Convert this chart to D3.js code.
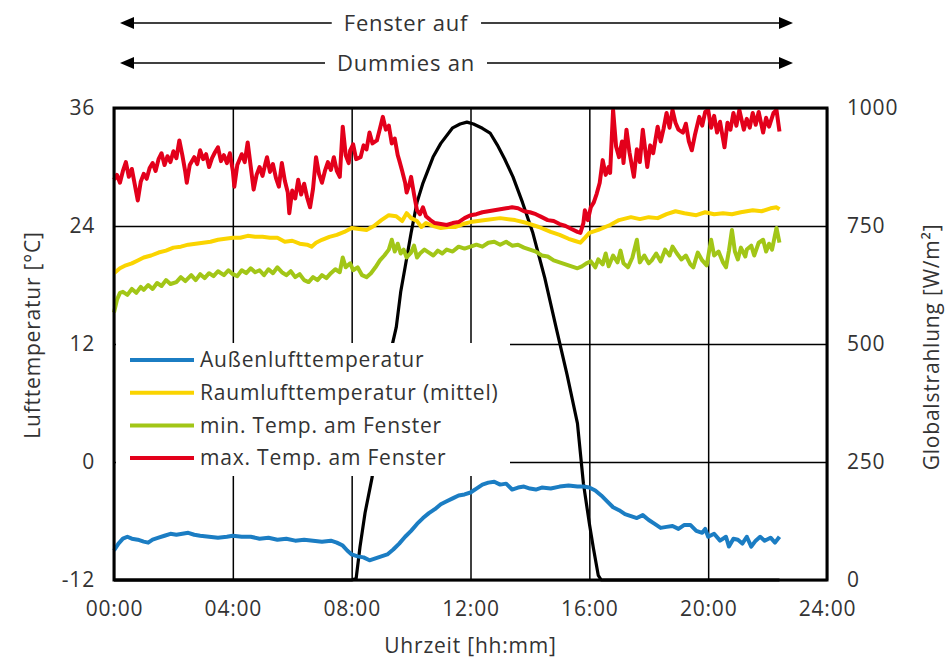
<!DOCTYPE html>
<html>
<head>
<meta charset="utf-8">
<script src="https://cdn.jsdelivr.net/npm/d3@7"></script>
<style>
  body { margin: 0; background: #fff; }
  text { font-family: "Open Sans", sans-serif; fill: #333; letter-spacing: 0.8px; }
</style>
</head>
<body>
<div id="chart"></div>
<script>
var width = 950,
    height = 661;

var margin = {left: 114, right: 123, top: 108, bottom: 81};
var plotW = width - margin.left - margin.right,
    plotH = height - margin.top - margin.bottom;

// x ticks in hours, y ticks
var hourTicks = [0, 4, 8, 12, 16, 20, 24];
var tempTicks = [-12, 0, 12, 24, 36];
var radTicks = [0, 250, 500, 750, 1000];

var seriesNames = ["Außenlufttemperatur", "Raumlufttemperatur (mittel)", "min. Temp. am Fenster", "max. Temp. am Fenster"];
var seriesColors = ["#1b7dc3", "#fad400", "#a2c617", "#e3001b"];

// [hour, °C]
var outdoorTemp = [[0,-9.0],[0.15,-8.3],[0.3,-7.8],[0.45,-7.6],[0.6,-7.8],[0.8,-7.9],[1.0,-8.1],[1.15,-8.2],[1.3,-7.9],[1.5,-7.7],[1.7,-7.5],[1.9,-7.3],[2.1,-7.4],[2.3,-7.3],[2.5,-7.2],[2.7,-7.4],[2.9,-7.5],[3.2,-7.6],[3.5,-7.7],[3.8,-7.6],[4.0,-7.5],[4.3,-7.6],[4.6,-7.6],[4.9,-7.8],[5.2,-7.7],[5.5,-7.9],[5.8,-7.8],[6.1,-8.0],[6.4,-7.9],[6.7,-8.0],[7.0,-8.1],[7.3,-8.0],[7.5,-8.2],[7.7,-8.5],[7.85,-9.0],[8.0,-9.4],[8.2,-9.6],[8.4,-9.7],[8.6,-10.0],[8.8,-9.8],[9.0,-9.6],[9.2,-9.4],[9.4,-8.9],[9.6,-8.3],[9.8,-7.6],[10.0,-7.0],[10.2,-6.3],[10.4,-5.7],[10.6,-5.2],[10.8,-4.8],[11.0,-4.3],[11.2,-4.0],[11.4,-3.7],[11.6,-3.4],[11.8,-3.3],[12.0,-3.1],[12.2,-2.7],[12.4,-2.3],[12.6,-2.1],[12.8,-2.0],[13.0,-2.3],[13.2,-2.2],[13.4,-2.8],[13.6,-2.6],[13.8,-2.5],[14.0,-2.7],[14.2,-2.8],[14.4,-2.6],[14.7,-2.7],[15.0,-2.5],[15.3,-2.4],[15.6,-2.5],[15.8,-2.5],[16.0,-2.6],[16.2,-2.9],[16.4,-3.4],[16.6,-4.0],[16.8,-4.6],[17.0,-4.9],[17.2,-5.3],[17.4,-5.5],[17.6,-5.7],[17.8,-5.4],[18.0,-5.9],[18.2,-6.3],[18.4,-6.7],[18.6,-6.6],[18.8,-6.5],[19.0,-6.8],[19.2,-6.4],[19.4,-6.4],[19.6,-7.0],[19.8,-7.2],[19.9,-6.8],[20.0,-7.6],[20.2,-7.3],[20.4,-8.0],[20.6,-7.6],[20.7,-8.6],[20.85,-7.8],[21.0,-7.9],[21.15,-8.3],[21.3,-7.6],[21.45,-8.6],[21.6,-8.0],[21.75,-7.6],[21.9,-8.0],[22.1,-7.7],[22.25,-8.2],[22.4,-7.6]];

var roomTemp = [[0,19.2],[0.2,19.7],[0.4,20.0],[0.6,20.2],[0.8,20.5],[1.0,20.8],[1.25,21.0],[1.5,21.3],[1.75,21.5],[2.0,21.8],[2.25,21.9],[2.5,22.1],[2.75,22.2],[3.0,22.3],[3.25,22.4],[3.5,22.6],[3.75,22.7],[4.0,22.8],[4.25,22.8],[4.5,23.0],[4.75,22.9],[5.0,22.9],[5.25,22.8],[5.5,22.8],[5.75,22.4],[6.0,22.5],[6.25,22.2],[6.5,22.1],[6.65,21.9],[6.8,22.3],[7.0,22.6],[7.25,22.9],[7.5,23.1],[7.75,23.4],[8.0,23.8],[8.25,23.7],[8.5,23.6],[8.75,24.0],[9.0,24.6],[9.25,25.1],[9.5,25.0],[9.7,24.5],[9.85,25.3],[10.0,24.8],[10.2,24.5],[10.35,23.9],[10.5,24.3],[10.75,24.0],[11.0,23.8],[11.25,23.9],[11.5,23.9],[11.75,24.2],[12.0,24.4],[12.5,24.6],[13.0,24.8],[13.5,24.6],[13.9,24.3],[14.3,23.9],[14.7,23.4],[15.0,23.1],[15.3,22.7],[15.5,22.5],[15.7,22.3],[15.85,22.8],[16.0,23.3],[16.3,23.6],[16.7,24.1],[17.0,24.6],[17.4,24.9],[17.7,24.7],[18.0,24.9],[18.3,24.8],[18.6,25.2],[18.9,25.5],[19.2,25.3],[19.6,25.1],[19.9,25.4],[20.2,25.2],[20.5,25.3],[20.8,25.2],[21.1,25.4],[21.5,25.6],[21.8,25.5],[22.1,25.8],[22.3,25.9],[22.4,25.7]];

var minWinTemp = [[0,15.2],[0.1,16.5],[0.2,17.2],[0.3,17.3],[0.45,17.0],[0.6,17.6],[0.75,17.2],[0.9,17.8],[1.0,17.5],[1.15,18.0],[1.3,17.6],[1.45,18.2],[1.6,17.9],[1.75,18.5],[1.9,18.1],[2.1,18.3],[2.25,18.8],[2.4,18.4],[2.6,19.0],[2.75,18.5],[2.9,19.1],[3.05,18.7],[3.2,19.2],[3.35,18.9],[3.5,19.4],[3.7,19.0],[3.85,19.5],[4.0,19.1],[4.15,18.9],[4.3,19.5],[4.45,19.2],[4.6,19.7],[4.75,19.3],[4.9,19.5],[5.05,19.0],[5.2,19.6],[5.35,19.2],[5.5,19.8],[5.65,19.3],[5.8,19.0],[5.95,19.4],[6.1,18.8],[6.25,19.1],[6.4,18.5],[6.55,18.3],[6.7,18.8],[6.85,18.5],[7.0,19.0],[7.15,18.7],[7.3,19.2],[7.45,19.6],[7.6,19.3],[7.7,20.8],[7.8,19.8],[7.95,20.2],[8.05,19.5],[8.2,19.8],[8.35,19.0],[8.5,18.8],[8.65,19.2],[8.8,19.8],[8.95,20.5],[9.1,21.0],[9.25,21.6],[9.35,22.6],[9.45,21.4],[9.55,22.2],[9.65,21.2],[9.75,21.6],[9.85,20.8],[10.0,21.3],[10.1,22.0],[10.2,20.8],[10.3,21.2],[10.45,21.6],[10.6,21.3],[10.75,21.0],[10.9,21.5],[11.05,21.2],[11.2,21.6],[11.4,21.4],[11.6,21.9],[11.8,21.7],[12.0,21.9],[12.2,22.1],[12.4,21.9],[12.6,22.3],[12.8,22.4],[13.0,22.1],[13.2,22.4],[13.4,22.0],[13.6,22.1],[13.8,21.8],[14.0,21.6],[14.2,21.4],[14.4,21.0],[14.6,20.9],[14.8,20.5],[15.0,20.3],[15.2,20.1],[15.4,19.9],[15.6,19.7],[15.75,19.9],[15.9,20.2],[16.05,20.4],[16.2,19.8],[16.3,20.6],[16.45,20.1],[16.55,21.2],[16.65,19.9],[16.8,21.0],[16.95,20.3],[17.05,21.5],[17.15,20.2],[17.3,19.8],[17.45,20.8],[17.6,22.6],[17.7,20.3],[17.85,21.0],[18.0,20.2],[18.1,20.5],[18.25,21.2],[18.4,20.4],[18.55,21.6],[18.7,21.0],[18.8,21.9],[18.95,21.2],[19.1,20.6],[19.25,21.0],[19.4,20.1],[19.5,19.8],[19.65,21.3],[19.8,20.5],[19.95,20.0],[20.1,22.6],[20.2,21.0],[20.35,21.4],[20.5,20.3],[20.6,19.8],[20.7,21.5],[20.8,23.6],[20.9,21.4],[21.0,20.6],[21.1,21.8],[21.25,20.9],[21.3,21.6],[21.45,22.0],[21.55,21.0],[21.7,22.3],[21.85,22.6],[21.95,21.4],[22.05,22.2],[22.15,21.6],[22.3,23.8],[22.4,22.3]];

var maxWinTemp = [[0,28.7],[0.1,29.2],[0.2,28.4],[0.3,29.6],[0.4,30.5],[0.5,29.0],[0.6,29.8],[0.7,28.2],[0.8,26.6],[0.9,28.5],[1.0,29.3],[1.1,28.8],[1.2,29.9],[1.3,30.4],[1.4,29.6],[1.5,30.8],[1.6,31.4],[1.7,30.2],[1.8,31.1],[1.9,30.5],[2.0,31.6],[2.1,30.9],[2.2,32.7],[2.3,31.2],[2.4,29.5],[2.45,28.4],[2.55,30.2],[2.7,31.0],[2.8,30.3],[2.9,31.7],[3.0,30.8],[3.1,31.3],[3.2,30.0],[3.3,30.9],[3.4,31.5],[3.5,32.0],[3.6,30.6],[3.7,31.2],[3.8,30.4],[3.9,31.4],[4.0,29.6],[4.05,28.0],[4.15,30.2],[4.3,31.3],[4.4,30.5],[4.5,32.5],[4.6,30.1],[4.7,27.7],[4.8,29.2],[4.9,30.0],[5.0,29.1],[5.1,30.4],[5.15,31.0],[5.25,29.5],[5.35,30.3],[5.45,28.9],[5.55,28.0],[5.65,30.4],[5.75,28.6],[5.85,27.4],[5.9,25.3],[6.0,27.6],[6.1,26.8],[6.2,28.7],[6.3,27.2],[6.4,28.3],[6.5,26.9],[6.6,25.9],[6.7,27.8],[6.8,31.0],[6.9,29.3],[7.0,28.4],[7.1,29.6],[7.2,30.5],[7.3,29.7],[7.4,31.0],[7.5,29.6],[7.6,29.0],[7.7,34.1],[7.8,31.2],[7.9,30.4],[7.95,31.7],[8.05,32.3],[8.15,30.8],[8.3,31.0],[8.4,32.2],[8.5,31.8],[8.6,33.5],[8.7,32.4],[8.85,32.7],[8.95,33.9],[9.05,35.1],[9.15,33.8],[9.25,34.2],[9.35,32.4],[9.45,32.9],[9.55,31.2],[9.6,30.7],[9.7,29.6],[9.8,28.4],[9.85,27.4],[9.95,28.3],[10.0,29.0],[10.1,27.2],[10.2,25.6],[10.3,25.2],[10.4,25.9],[10.5,25.0],[10.65,24.6],[10.8,24.3],[11.0,24.2],[11.2,24.1],[11.4,24.3],[11.6,24.4],[11.8,24.8],[12.0,25.1],[12.2,25.2],[12.4,25.4],[12.6,25.5],[12.8,25.6],[13.0,25.7],[13.2,25.8],[13.4,25.9],[13.6,25.8],[13.8,25.5],[14.0,25.4],[14.2,25.2],[14.4,24.9],[14.6,24.6],[14.8,24.5],[15.0,24.2],[15.2,24.0],[15.4,23.7],[15.6,23.4],[15.7,23.3],[15.8,24.3],[15.85,25.6],[15.95,24.6],[16.05,25.9],[16.15,26.4],[16.25,27.3],[16.35,28.4],[16.45,30.7],[16.55,29.2],[16.65,30.0],[16.7,29.4],[16.8,35.8],[16.9,32.1],[17.0,31.0],[17.1,32.6],[17.15,30.4],[17.25,33.8],[17.35,31.5],[17.5,29.0],[17.6,31.8],[17.7,30.5],[17.8,33.8],[17.95,30.0],[18.05,32.2],[18.15,31.4],[18.3,34.1],[18.4,32.6],[18.5,33.9],[18.6,35.5],[18.7,34.0],[18.8,35.8],[18.9,34.5],[19.0,33.8],[19.15,33.5],[19.25,34.4],[19.35,32.6],[19.45,31.7],[19.55,33.2],[19.7,35.1],[19.8,34.2],[19.9,35.6],[20.0,35.8],[20.1,34.0],[20.2,35.2],[20.3,33.5],[20.4,34.6],[20.55,32.0],[20.65,34.5],[20.75,33.8],[20.85,35.5],[20.95,34.2],[21.05,35.8],[21.2,33.8],[21.3,34.9],[21.4,34.0],[21.5,35.5],[21.6,34.3],[21.7,35.6],[21.85,33.5],[21.95,35.0],[22.05,34.1],[22.2,35.5],[22.3,35.8],[22.4,33.6]];

// [hour, W/m²]
var globalRad = [[0,0],[8.0,0],[8.15,3],[8.28,70],[8.45,142],[8.69,218],[8.9,320],[9.1,410],[9.3,480],[9.5,535],[9.65,610],[9.8,663],[10.0,735],[10.2,800],[10.4,841],[10.74,896],[11.0,925],[11.4,958],[11.65,966],[11.88,970],[12.1,966],[12.4,957],[12.66,947],[12.9,922],[13.15,892],[13.43,854],[13.75,800],[14.1,735],[14.5,640],[14.9,530],[15.25,435],[15.6,332],[15.8,205],[16.0,120],[16.13,70],[16.3,10],[16.4,0],[22.4,0]];

var tempSeries = [outdoorTemp, roomTemp, minWinTemp, maxWinTemp];

var svg = d3.select("#chart").append("svg")
    .attr("width", width)
    .attr("height", height)

var x = d3.scaleLinear().domain([0, 24]).range([margin.left, margin.left + plotW]);
var yT = d3.scaleLinear().domain([-12, 36]).range([margin.top + plotH, margin.top]);
var yR = d3.scaleLinear().domain([0, 1000]).range([margin.top + plotH, margin.top]);

// grid
svg.append("g")
  .attr("transform", "translate(0," + margin.top + ")")
  .call(d3.axisBottom(x).tickValues(hourTicks).tickSize(plotH).tickFormat(""))
  .call(g => g.select(".domain").remove())
  .selectAll("line").attr("stroke", "#000").attr("stroke-width", 1.5);

svg.append("g")
  .attr("transform", "translate(" + margin.left + ",0)")
  .call(d3.axisRight(yT).tickValues(tempTicks).tickSize(plotW).tickFormat(""))
  .call(g => g.select(".domain").remove())
  .selectAll("line").attr("stroke", "#000").attr("stroke-width", 1.5);

// tick labels
var xAxis = svg.append("g")
  .attr("transform", "translate(0," + (margin.top + plotH) + ")")
  .call(d3.axisBottom(x).tickValues(hourTicks).tickSize(0).tickPadding(21)
    .tickFormat(d => String(d).padStart(2, "0") + ":00"));
xAxis.select(".domain").remove();

var yAxisL = svg.append("g")
  .attr("transform", "translate(" + margin.left + ",0)")
  .call(d3.axisLeft(yT).tickValues(tempTicks).tickSize(0).tickPadding(19)
    .tickFormat(d => String(d)));
yAxisL.select(".domain").remove();

var yAxisR = svg.append("g")
  .attr("transform", "translate(" + (margin.left + plotW) + ",0)")
  .call(d3.axisRight(yR).tickValues(radTicks).tickSize(0).tickPadding(20)
    .tickFormat(d => String(d)));
yAxisR.select(".domain").remove();

svg.selectAll(".tick text")
  .style("font-family", "'Open Sans', sans-serif")
  .style("font-size", "21px")
  .attr("fill", "#333");

// lines
var tLine = d3.line().x(d => x(d[0])).y(d => yT(d[1]));
var rLine = d3.line().x(d => x(d[0])).y(d => yR(d[1]));

svg.append("path")
  .datum(globalRad)
  .attr("d", rLine)
  .attr("fill", "none")
  .attr("stroke", "#000")
  .attr("stroke-width", 3.2)
  .attr("stroke-linejoin", "round");

tempSeries.forEach(function(s, i) {
  svg.append("path")
    .datum(s)
    .attr("d", tLine)
    .attr("fill", "none")
    .attr("stroke", seriesColors[i])
    .attr("stroke-width", 4)
    .attr("stroke-linejoin", "round");
});

// frame
svg.append("rect")
  .attr("x", margin.left)
  .attr("y", margin.top)
  .attr("width", plotW)
  .attr("height", plotH)
  .attr("fill", "none")
  .attr("stroke", "#000")
  .attr("stroke-width", 3);

// legend (covers the grid)
svg.append("rect")
  .attr("x", margin.left + 2)
  .attr("y", 343)
  .attr("width", 394)
  .attr("height", 133)
  .attr("fill", "#fff");

var legend = svg.append("g").attr("transform", "translate(130,360)");
seriesNames.forEach(function(n, i) {
  var row = legend.append("g").attr("transform", "translate(0," + (i * 32.7) + ")");
  row.append("line")
    .attr("x1", 0).attr("x2", 64)
    .attr("stroke", seriesColors[i])
    .attr("stroke-width", 4);
  row.append("text")
    .attr("x", 70)
    .attr("dy", "0.35em")
    .style("font-size", "21px")
    .text(n);
});

// axis titles
svg.append("text")
  .attr("transform", "translate(33,335) rotate(-90)")
  .attr("text-anchor", "middle")
  .attr("dy", "0.35em")
  .style("font-size", "21px")
  .text("Lufttemperatur [°C]");

svg.append("text")
  .attr("transform", "translate(932,347) rotate(-90)")
  .attr("text-anchor", "middle")
  .attr("dy", "0.35em")
  .style("font-size", "21px")
  .text("Globalstrahlung [W/m²]");

svg.append("text")
  .attr("x", x(12))
  .attr("y", 646)
  .attr("text-anchor", "middle")
  .attr("dy", "0.35em")
  .style("font-size", "21px")
  .text("Uhrzeit [hh:mm]");

// arrows on top
var arrowLabels = ["Fenster auf", "Dummies an"];
var arrowX = [120, 793];
var arrowY = [23, 63];

arrowLabels.forEach(function(label, i) {
  var g = svg.append("g");
  var t = g.append("text")
    .attr("x", 406)
    .attr("y", arrowY[i])
    .attr("text-anchor", "middle")
    .attr("dy", "0.35em")
    .style("font-size", "22px")
    .text(label);
  var bb = t.node().getBBox();
  g.append("line")
    .attr("x1", arrowX[0] + 10).attr("x2", bb.x - 12)
    .attr("y1", arrowY[i]).attr("y2", arrowY[i])
    .attr("stroke", "#000").attr("stroke-width", 1.5);
  g.append("line")
    .attr("x1", bb.x + bb.width + 12).attr("x2", arrowX[1] - 10)
    .attr("y1", arrowY[i]).attr("y2", arrowY[i])
    .attr("stroke", "#000").attr("stroke-width", 1.5);
  g.append("path")
    .attr("d", "M" + arrowX[0] + "," + arrowY[i] + "l14,-6l0,12z")
    .attr("fill", "#000");
  g.append("path")
    .attr("d", "M" + arrowX[1] + "," + arrowY[i] + "l-14,-6l0,12z")
    .attr("fill", "#000");
});
</script>
</body>
</html>
